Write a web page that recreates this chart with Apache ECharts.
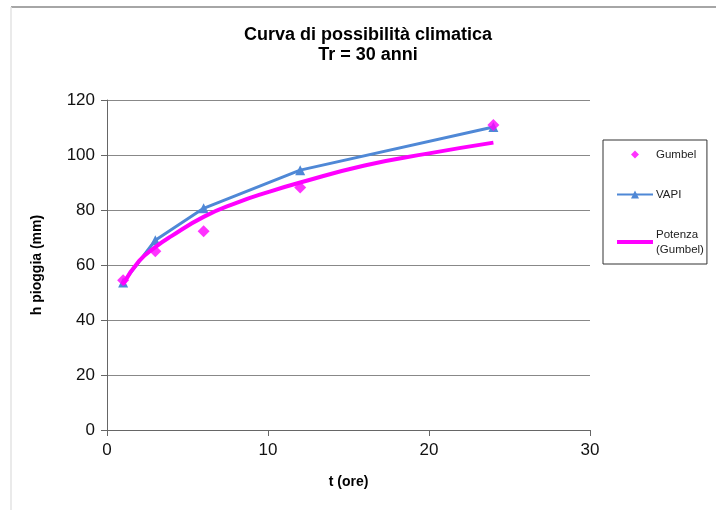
<!DOCTYPE html>
<html>
<head>
<meta charset="utf-8">
<script src="https://cdn.jsdelivr.net/npm/echarts@6/dist/echarts.min.js"></script>
<style>html,body{margin:0;padding:0;background:#fff}#c{width:716px;height:510px}</style>
</head>
<body>
<div id="c"></div>
<script>
var durations = [1, 3, 6, 12, 24];
var gumbel = [54.5, 65, 72.3, 88.2, 110.9];
var vapi = [53.6, 69, 80.6, 94.5, 110.2];
var trendT = [1, 2, 3, 4, 6, 8, 10, 12, 16, 20, 24];
var trendH = [53, 61.5, 66.5, 70.5, 77.5, 82.5, 86.5, 90, 96.2, 100.6, 104.5];
var titleLines = ['Curva di possibilità climatica', 'Tr = 30 anni'];
var xName = 't (ore)';
var yName = 'h pioggia (mm)';
var names = ['Gumbel', 'VAPI', 'Potenza (Gumbel)'];

function pairs(xs, ys){ return xs.map(function(x,i){ return [x, ys[i]]; }); }

var FONT = 'Liberation Sans, Arial, sans-serif';
var chart = echarts.init(document.getElementById('c'), null, {renderer:'canvas'});
chart.setOption({
  animation: false,
  backgroundColor: '#fff',
  textStyle: {fontFamily: FONT},
  title: {
    text: titleLines.join('\n'),
    left: 363, top: 20, textAlign: 'center',
    textStyle: {fontSize: 18, fontWeight: 'bold', color: '#000', lineHeight: 20, fontFamily: FONT}
  },
  graphic: [
    {type: 'line', shape: {x1: 11, y1: 7, x2: 716, y2: 7}, style: {stroke: '#a6a6a6', lineWidth: 2}},
    {type: 'line', shape: {x1: 11, y1: 7, x2: 11, y2: 510}, style: {stroke: '#e3e3e3', lineWidth: 1.5}}
  ],
  legend: {
    orient: 'vertical',
    left: 603, top: 140,
    padding: [7, 3, 7, 13],
    borderColor: '#333', borderWidth: 1,
    itemWidth: 36, itemHeight: 10, itemGap: 25,
    data: [
      {name: names[0], icon: 'path://M0,5L0,5.01M36,5L36,5.01M0,0L0,0.01M0,10L0,10.01M18,1L22,5L18,9L14,5Z'},
      {name: names[1]},
      {name: names[2], icon: 'path://M0,0L0,0.01M0,10L0,10.01M0,3L36,3L36,7L0,7Z'}
    ],
    formatter: function(n){ return n === names[2] ? 'Potenza\n(Gumbel)' : n; },
    textStyle: {fontSize: 11.5, color: '#222', lineHeight: 15, fontFamily: FONT, padding: [0, 0, 0, -2]}
  },
  grid: {left: 107, right: 126, top: 100, bottom: 80, containLabel: false},
  xAxis: {
    type: 'value', min: 0, max: 30, interval: 10,
    name: xName, nameLocation: 'middle', nameGap: 45,
    nameTextStyle: {fontSize: 14, fontWeight: 'bold', color: '#000'},
    axisLine: {show: true, lineStyle: {color: '#666', width: 1}},
    axisTick: {show: true, length: 6, lineStyle: {color: '#666'}},
    axisLabel: {fontSize: 17, color: '#111', margin: 12},
    splitLine: {show: false}
  },
  yAxis: {
    type: 'value', min: 0, max: 120, interval: 20,
    name: yName, nameLocation: 'middle', nameGap: 63, nameRotate: 90,
    nameTextStyle: {fontSize: 14, fontWeight: 'bold', color: '#000'},
    axisLine: {show: true, lineStyle: {color: '#666', width: 1}},
    axisTick: {show: true, length: 6, lineStyle: {color: '#666'}},
    axisLabel: {fontSize: 17, color: '#111', margin: 12},
    splitLine: {show: true, lineStyle: {color: '#888', width: 1}}
  },
  series: [
    {
      name: names[1], type: 'line', data: pairs(durations, vapi),
      symbol: 'triangle', symbolSize: 10, showAllSymbol: true,
      lineStyle: {color: '#4f88d6', width: 3},
      itemStyle: {color: '#4f88d6'}, z: 2
    },
    {
      name: names[2], type: 'line', data: pairs(trendT, trendH),
      symbol: 'none', smooth: true,
      lineStyle: {color: '#ff00ff', width: 4},
      itemStyle: {color: '#ff00ff'}, z: 3
    },
    {
      name: names[0], type: 'scatter', data: pairs(durations, gumbel),
      symbol: 'diamond', symbolSize: 12,
      itemStyle: {color: '#ff00ff'}, z: 4
    }
  ]
});
</script>
</body>
</html>
